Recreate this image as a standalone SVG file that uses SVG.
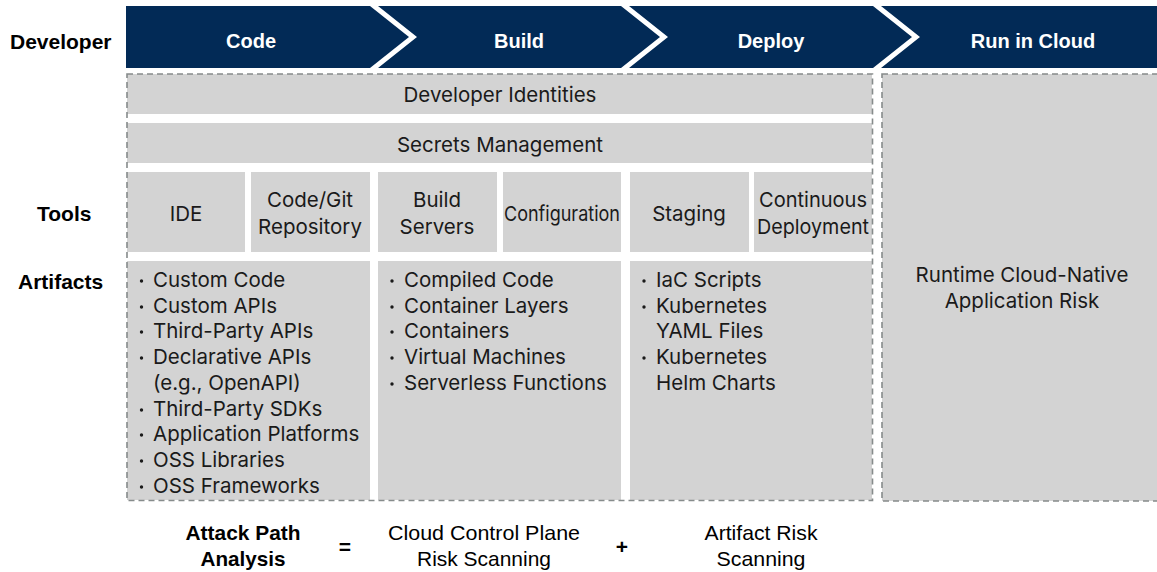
<svg xmlns="http://www.w3.org/2000/svg" width="1157" height="572" viewBox="0 0 1157 572">
<style>
.stage{fill:#022a56}
.hd{font-family:"Liberation Sans",Arial,sans-serif;font-weight:bold;font-size:20px;fill:#fff;text-anchor:middle}
.lbl{font-family:"Liberation Sans",Arial,sans-serif;font-weight:bold;font-size:21px;fill:#000}
.box{fill:#d3d3d3}
.dash{fill:none;stroke:#868b8b;stroke-width:1.6;stroke-dasharray:6 4}
.t{font-family:Inter,"Liberation Sans",Arial,sans-serif;font-size:20.5px;fill:#1a1a1a}
.c{text-anchor:middle}
.dot{fill:#1a1a1a}
.b{font-family:"Liberation Sans",Arial,sans-serif;font-size:21px;fill:#000;text-anchor:middle}
.bb{font-weight:bold}
</style>
<rect width="1157" height="572" fill="#fff"/>
<g id="stage-code"><polygon class="stage" points="126,6 370,6 409,37 370,68 126,68"/><text class="hd" x="251" y="48">Code</text></g>
<g id="stage-build"><polygon class="stage" points="378,6 621,6 660,37 621,68 378,68 417,37"/><text class="hd" x="519" y="48">Build</text></g>
<g id="stage-deploy"><polygon class="stage" points="629,6 873,6 912,37 873,68 629,68 668,37"/><text class="hd" x="771" y="48">Deploy</text></g>
<g id="stage-run"><polygon class="stage" points="881,6 1157,6 1157,68 881,68 920,37"/><text class="hd" x="1033" y="48">Run in Cloud</text></g>

<g id="row-labels">
<text class="lbl" x="10" y="49">Developer</text>
<text class="lbl" x="37" y="221">Tools</text>
<text class="lbl" x="18" y="289">Artifacts</text>
</g>

<g id="developer-identities"><rect class="box" x="127" y="74" width="745" height="40"/><text class="t c" x="500" y="102">Developer Identities</text></g>
<g id="secrets-management"><rect class="box" x="127" y="123" width="745" height="40"/><text class="t c" x="500" y="152">Secrets Management</text></g>

<g id="tool-ide"><rect class="box" x="127" y="172" width="118" height="80"/><text class="t c" x="186" y="221">IDE</text></g>
<g id="tool-repo"><rect class="box" x="251" y="172" width="119" height="80"/><text class="t c" x="310" y="207">Code/Git</text><text class="t c" x="310" y="234">Repository</text></g>
<g id="tool-build-servers"><rect class="box" x="378" y="172" width="119" height="80"/><text class="t c" x="437" y="207">Build</text><text class="t c" x="437" y="234">Servers</text></g>
<g id="tool-configuration"><rect class="box" x="503" y="172" width="118" height="80"/><text class="t c" x="562" y="221" textLength="116" lengthAdjust="spacingAndGlyphs">Configuration</text></g>
<g id="tool-staging"><rect class="box" x="630" y="172" width="119" height="80"/><text class="t c" x="689" y="221">Staging</text></g>
<g id="tool-cd"><rect class="box" x="754" y="172" width="118" height="80"/><text class="t c" x="813" y="207" textLength="108" lengthAdjust="spacingAndGlyphs">Continuous</text><text class="t c" x="813" y="234" textLength="112" lengthAdjust="spacingAndGlyphs">Deployment</text></g>

<g id="artifacts-code"><rect class="box" x="127" y="261" width="243" height="239"/>
<g class="dot">
<circle cx="141.5" cy="281" r="1.7"/><circle cx="141.5" cy="307" r="1.7"/><circle cx="141.5" cy="332" r="1.7"/><circle cx="141.5" cy="358" r="1.7"/><circle cx="141.5" cy="410" r="1.7"/><circle cx="141.5" cy="435" r="1.7"/><circle cx="141.5" cy="461" r="1.7"/><circle cx="141.5" cy="487" r="1.7"/>
</g>
<g class="t">
<text x="153" y="287">Custom Code</text>
<text x="153" y="313">Custom APIs</text>
<text x="153" y="338">Third-Party APIs</text>
<text x="153" y="364">Declarative APIs</text>
<text x="153" y="390">(e.g., OpenAPI)</text>
<text x="153" y="416">Third-Party SDKs</text>
<text x="153" y="441">Application Platforms</text>
<text x="153" y="467">OSS Libraries</text>
<text x="153" y="493">OSS Frameworks</text>
</g></g>
<g id="artifacts-build"><rect class="box" x="378" y="261" width="243" height="239"/>
<g class="dot">
<circle cx="392" cy="281" r="1.7"/><circle cx="392" cy="307" r="1.7"/><circle cx="392" cy="332" r="1.7"/><circle cx="392" cy="358" r="1.7"/><circle cx="392" cy="384" r="1.7"/>
</g>
<g class="t">
<text x="404" y="287">Compiled Code</text>
<text x="404" y="313">Container Layers</text>
<text x="404" y="338">Containers</text>
<text x="404" y="364">Virtual Machines</text>
<text x="404" y="390">Serverless Functions</text>
</g></g>
<g id="artifacts-deploy"><rect class="box" x="630" y="261" width="242" height="239"/>
<g class="dot">
<circle cx="644" cy="281" r="1.7"/><circle cx="644" cy="307" r="1.7"/><circle cx="644" cy="358" r="1.7"/>
</g>
<g class="t">
<text x="656" y="287">IaC Scripts</text>
<text x="656" y="313">Kubernetes</text>
<text x="656" y="338">YAML Files</text>
<text x="656" y="364">Kubernetes</text>
<text x="656" y="390">Helm Charts</text>
</g></g>

<g id="runtime"><rect class="box" x="882" y="74" width="276" height="427"/>
<text class="t c" x="1022" y="282">Runtime Cloud-Native</text>
<text class="t c" x="1022" y="308">Application Risk</text></g>

<g id="dashed-frames">
<rect class="dash" x="127" y="74" width="745.5" height="426.5"/>
<rect class="dash" x="882" y="74" width="280" height="427"/>
</g>

<g id="equation">
<text class="b bb" x="243" y="540" textLength="115" lengthAdjust="spacingAndGlyphs">Attack Path</text>
<text class="b bb" x="243" y="566" textLength="85" lengthAdjust="spacingAndGlyphs">Analysis</text>
<text class="b bb" x="345" y="554" font-size="26">=</text>
<text class="b" x="484" y="540" textLength="192" lengthAdjust="spacingAndGlyphs">Cloud Control Plane</text>
<text class="b" x="484" y="566" textLength="134" lengthAdjust="spacingAndGlyphs">Risk Scanning</text>
<text class="b bb" x="622" y="554" font-size="26">+</text>
<text class="b" x="761" y="540" textLength="113" lengthAdjust="spacingAndGlyphs">Artifact Risk</text>
<text class="b" x="761" y="566" textLength="89" lengthAdjust="spacingAndGlyphs">Scanning</text>
</g>
</svg>
